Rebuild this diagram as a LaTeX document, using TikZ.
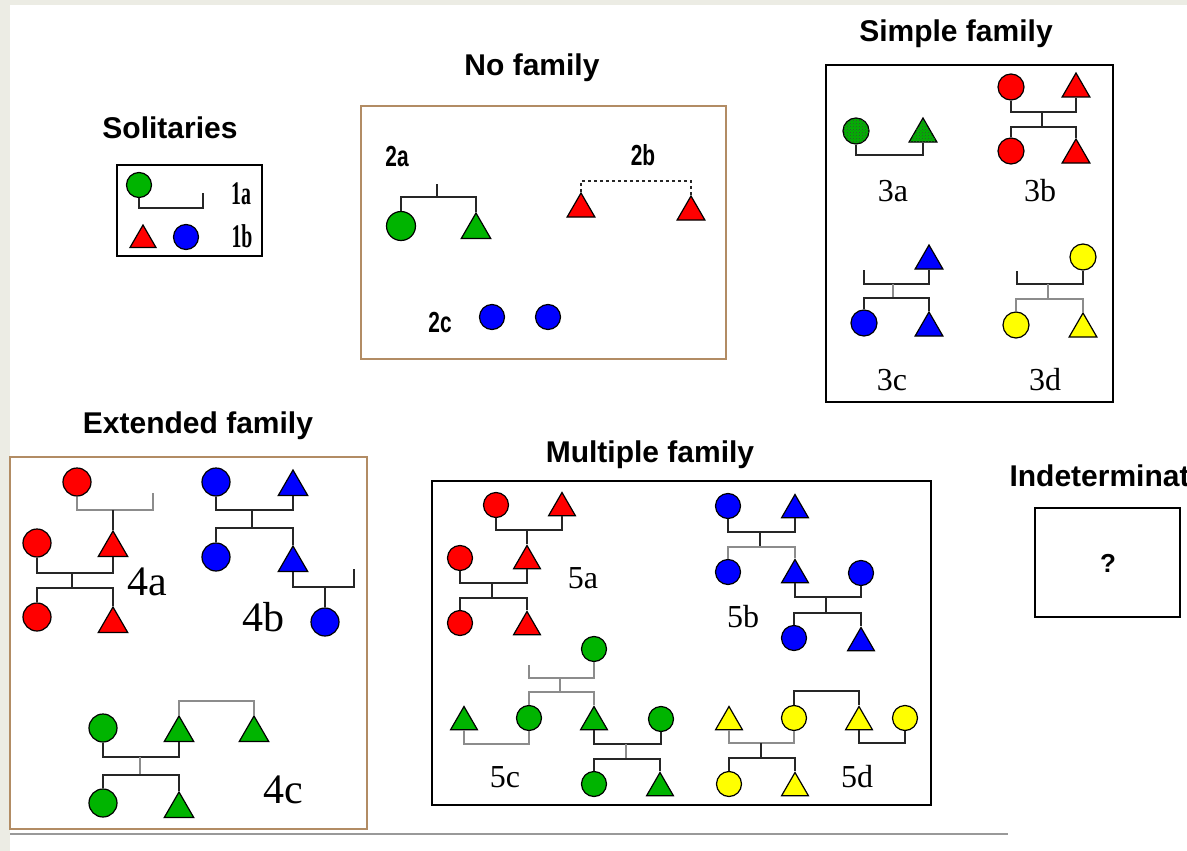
\documentclass[tikz,border=0pt]{standalone}
\usepackage{fontspec}
\usepackage{graphicx}
\setmainfont{Liberation Serif}
\setsansfont{Liberation Sans}
\usetikzlibrary{shapes.geometric,patterns}
\definecolor{pr}{RGB}{255,0,0}
\definecolor{pg}{RGB}{0,180,0}
\definecolor{pb}{RGB}{0,0,255}
\definecolor{py}{RGB}{255,255,0}
\definecolor{bandgray}{RGB}{236,236,228}
\definecolor{boxbrown}{RGB}{178,140,100}
\tikzset{
  fem/.style={circle, draw=black, line width=1.2, minimum size=26, inner sep=0},
  mal/.style={regular polygon, regular polygon sides=3, draw=black, line width=1.2, minimum size=32, inner sep=0},
  stip/.style={postaction={pattern=crosshatch dots, pattern color=black!75}},
  kin/.style={draw=black!85, line width=1.3},
  kinl/.style={draw=black!45, line width=1.3},
  ttl/.style={font=\sffamily\bfseries\fontsize{30}{32}\selectfont},
  lab/.style={font=\fontsize{32}{34}\selectfont},
  biglab/.style={font=\fontsize{42}{44}\selectfont},
  sollab/.style={font=\bfseries\fontsize{33}{35}\selectfont},
  implab/.style={font=\sffamily\bfseries\fontsize{29}{31}\selectfont},
  plainbox/.style={draw=black, line width=1.4},
  brownbox/.style={draw=boxbrown, line width=1.6}
}
\newcommand{\cnd}[1]{\scalebox{0.6}[1]{#1}}
\newcommand{\imp}[1]{\scalebox{0.72}[1]{#1}}
\begin{document}
\begin{tikzpicture}[x=1pt,y=-1pt]
\useasboundingbox (0,0) rectangle (1187,851);
\fill[bandgray] (0,0) rectangle (1187,851);
\fill[white] (10,5) rectangle (1187,851);
\begin{scope}
\clip (0,0) rectangle (1187,851);
% titles
\node[ttl] (tSol) at (170,128) {Solitaries};
\node[ttl] (tNo) at (532,68) {No family};
\node[ttl] (tSim) at (956,34) {Simple family};
\node[ttl] (tExt) at (198,426) {Extended family};
\node[ttl] (tMul) at (650,455) {Multiple family};
\node[ttl, anchor=west] (tInd) at (1006,476) {Indeterminate};

% ---------------- Solitaries
\draw[plainbox] (117,165) rectangle (262,256);
\node[fem, fill=pg, minimum size=25] (s1) at (139,185) {};
\coordinate (s1e) at (203,193);
\draw[kin] (s1.south) -- ++(0,10) -| (s1e);
\node[sollab] (l1a) at (241,194) {\cnd{1a}};
\node[mal, fill=pr, minimum size=30] (s2) at (143,240) {};
\node[fem, fill=pb, minimum size=25] (s3) at (186,237) {};
\node[sollab] (l1b) at (242,236) {\cnd{1b}};

% ---------------- No family
\draw[brownbox] (361,106) rectangle (726,359);
\node[implab] (l2a) at (397,157) {\imp{2a}};
\node[fem, fill=pg, minimum size=29] (n1) at (401,226) {};
\node[mal, fill=pg, minimum size=34] (n2) at (476,230) {};
\coordinate (j2a) at (437,197);
\coordinate (t2a) at (437,184);
\draw[kin] (n1.north) -- (n1.north |- j2a) -- (n2.north |- j2a) -- (n2.north);
\draw[kin] (j2a) -- (t2a);
\node[implab] (l2b) at (643,155) {\imp{2b}};
\node[mal, fill=pr, minimum size=32] (b1) at (581,209) {};
\node[mal, fill=pr, minimum size=32] (b2) at (691,212) {};
\coordinate (j2b) at (635,181);
\draw[kin, dashed] (b1.north) -- (b1.north |- j2b) -- (b2.north |- j2b) -- (b2.north);
\node[implab] (l2c) at (440,323) {\imp{2c}};
\node[fem, fill=pb, minimum size=25] (c1) at (492,317) {};
\node[fem, fill=pb, minimum size=25] (c2) at (548,317) {};

% ---------------- Simple family
\draw[plainbox] (826,65) rectangle (1113,402);
% 3a
\node[fem, fill=pg, stip] (a1) at (856,131) {};
\node[mal, fill=pg, stip] (a2) at (923,134) {};
\coordinate (j3a) at (890,155);
\draw[kin] (a1.south) -- (a1.south |- j3a) -- (a2.south |- j3a) -- (a2.south);
\node[lab] (l3a) at (893,191) {3a};
% 3b
\node[fem, fill=pr] (b3f) at (1011,87) {};
\node[mal, fill=pr] (b3m) at (1076,89) {};
\coordinate (j3b1) at (1042,112);
\coordinate (j3b2) at (1042,127);
\node[fem, fill=pr] (b3d) at (1011,151) {};
\node[mal, fill=pr] (b3s) at (1076,155) {};
\draw[kin] (b3f.south) -- (b3f.south |- j3b1) -- (b3m.south |- j3b1) -- (b3m.south);
\draw[kin] (j3b1) -- (j3b2);
\draw[kin] (b3d.north) -- (b3d.north |- j3b2) -- (b3s.north |- j3b2) -- (b3s.north);
\node[lab] (l3b) at (1040,191) {3b};
% 3c
\node[mal, fill=pb] (c3m) at (929,261) {};
\coordinate (s3c) at (864,270);
\coordinate (j3c1) at (893,284);
\coordinate (j3c2) at (893,298);
\node[fem, fill=pb] (c3d) at (864,323) {};
\node[mal, fill=pb] (c3s) at (929,328) {};
\draw[kin] (s3c) -- (s3c |- j3c1) -- (c3m.south |- j3c1) -- (c3m.south);
\draw[kinl] (j3c1) -- (j3c2);
\draw[kin] (c3d.north) -- (c3d.north |- j3c2) -- (c3s.north |- j3c2) -- (c3s.north);
\node[lab] (l3c) at (892,380) {3c};
% 3d
\node[fem, fill=py] (d3f) at (1083,257) {};
\coordinate (s3d) at (1017,271);
\coordinate (j3d1) at (1048,284);
\coordinate (j3d2) at (1048,299);
\node[fem, fill=py] (d3d) at (1016,325) {};
\node[mal, fill=py] (d3s) at (1083,329) {};
\draw[kin] (s3d) -- (s3d |- j3d1) -- (d3f.south |- j3d1) -- (d3f.south);
\draw[kinl] (j3d1) -- (j3d2);
\draw[kinl] (d3d.north) -- (d3d.north |- j3d2) -- (d3s.north |- j3d2) -- (d3s.north);
\node[lab] (l3d) at (1045,380) {3d};

% ---------------- Extended family
\draw[brownbox] (10,457) rectangle (367,829);
% 4a
\node[fem, fill=pr, minimum size=28] (e1) at (77,482) {};
\coordinate (s4a) at (153,493);
\coordinate (j4a1) at (113,510);
\node[mal, fill=pr, minimum size=34] (e2) at (113,548) {};
\node[fem, fill=pr, minimum size=28] (e3) at (37,543) {};
\coordinate (j4a2) at (72,573);
\coordinate (j4a3) at (72,588);
\node[fem, fill=pr, minimum size=28] (e4) at (37,617) {};
\node[mal, fill=pr, minimum size=34] (e5) at (113,624) {};
\draw[kinl] (e1.south) -- (e1.south |- j4a1) -- (s4a |- j4a1) -- (s4a);
\draw[kin] (j4a1) -- (e2.north);
\draw[kin] (e3.south) -- (e3.south |- j4a2) -- (e2.south |- j4a2) -- (e2.south);
\draw[kin] (j4a2) -- (j4a3);
\draw[kin] (e4.north) -- (e4.north |- j4a3) -- (e5.north |- j4a3) -- (e5.north);
\node[biglab] (l4a) at (147,582) {4a};
% 4b
\node[fem, fill=pb, minimum size=28] (f1) at (216,482) {};
\node[mal, fill=pb, minimum size=34] (f2) at (293,487) {};
\coordinate (j4b1) at (252,510);
\coordinate (j4b2) at (252,528);
\node[fem, fill=pb, minimum size=28] (f3) at (216,557) {};
\node[mal, fill=pb, minimum size=34] (f4) at (293,563) {};
\coordinate (s4b) at (354,569);
\coordinate (j4b3) at (325,587);
\node[fem, fill=pb, minimum size=28] (f5) at (325,622) {};
\draw[kin] (f1.south) -- (f1.south |- j4b1) -- (f2.south |- j4b1) -- (f2.south);
\draw[kin] (j4b1) -- (j4b2);
\draw[kin] (f3.north) -- (f3.north |- j4b2) -- (f4.north |- j4b2) -- (f4.north);
\draw[kin] (f4.south) -- (f4.south |- j4b3) -- (s4b |- j4b3) -- (s4b);
\draw[kin] (j4b3) -- (f5.north);
\node[biglab] (l4b) at (263,617) {4b};
% 4c
\node[fem, fill=pg, minimum size=28] (g1) at (103,728) {};
\node[mal, fill=pg, minimum size=34] (g2) at (179,733) {};
\node[mal, fill=pg, minimum size=34] (g3) at (254,733) {};
\coordinate (j4c0) at (216,701);
\coordinate (j4c1) at (140,757);
\coordinate (j4c2) at (140,775);
\node[fem, fill=pg, minimum size=28] (g4) at (103,803) {};
\node[mal, fill=pg, minimum size=34] (g5) at (179,809) {};
\draw[kinl] (g2.north) -- (g2.north |- j4c0) -- (g3.north |- j4c0) -- (g3.north);
\draw[kin] (g1.south) -- (g1.south |- j4c1) -- (g2.south |- j4c1) -- (g2.south);
\draw[kinl] (j4c1) -- (j4c2);
\draw[kin] (g4.north) -- (g4.north |- j4c2) -- (g5.north |- j4c2) -- (g5.north);
\node[biglab] (l4c) at (283,790) {4c};

% ---------------- Multiple family
\draw[plainbox] (432,481) rectangle (931,805);
% 5a
\node[fem, fill=pr, minimum size=25] (m1) at (496,505) {};
\node[mal, fill=pr, minimum size=31] (m2) at (562,508) {};
\coordinate (j5a1) at (527,530);
\node[mal, fill=pr, minimum size=31] (m3) at (527,561) {};
\node[fem, fill=pr, minimum size=25] (m4) at (460,558) {};
\coordinate (j5a2) at (492,583);
\coordinate (j5a3) at (492,598);
\node[fem, fill=pr, minimum size=25] (m5) at (460,623) {};
\node[mal, fill=pr, minimum size=31] (m6) at (527,627) {};
\draw[kin] (m1.south) -- (m1.south |- j5a1) -- (m2.south |- j5a1) -- (m2.south);
\draw[kin] (j5a1) -- (m3.north);
\draw[kin] (m4.south) -- (m4.south |- j5a2) -- (m3.south |- j5a2) -- (m3.south);
\draw[kin] (j5a2) -- (j5a3);
\draw[kin] (m5.north) -- (m5.north |- j5a3) -- (m6.north |- j5a3) -- (m6.north);
\node[lab] (l5a) at (583,578) {5a};
% 5b
\node[fem, fill=pb, minimum size=25] (p1) at (728,506) {};
\node[mal, fill=pb, minimum size=31] (p2) at (795,510) {};
\coordinate (j5b1) at (760,532);
\coordinate (j5b2) at (760,547);
\node[fem, fill=pb, minimum size=25] (p3) at (728,572) {};
\node[mal, fill=pb, minimum size=31] (p4) at (795,575) {};
\node[fem, fill=pb, minimum size=25] (p5) at (861,573) {};
\coordinate (j5b3) at (826,597);
\coordinate (j5b4) at (826,613);
\node[fem, fill=pb, minimum size=25] (p6) at (794,638) {};
\node[mal, fill=pb, minimum size=31] (p7) at (861,643) {};
\draw[kin] (p1.south) -- (p1.south |- j5b1) -- (p2.south |- j5b1) -- (p2.south);
\draw[kin] (j5b1) -- (j5b2);
\draw[kinl] (p3.north) -- (p3.north |- j5b2) -- (p4.north |- j5b2) -- (p4.north);
\draw[kin] (p4.south) -- (p4.south |- j5b3) -- (p5.south |- j5b3) -- (p5.south);
\draw[kin] (j5b3) -- (j5b4);
\draw[kin] (p6.north) -- (p6.north |- j5b4) -- (p7.north |- j5b4) -- (p7.north);
\node[lab] (l5b) at (743,617) {5b};
% 5c
\node[fem, fill=pg, minimum size=25] (q1) at (594,649) {};
\coordinate (s5c) at (529,665);
\coordinate (j5c1) at (560,678);
\coordinate (j5c2) at (560,692);
\node[mal, fill=pg, minimum size=31] (q2) at (464,722) {};
\node[fem, fill=pg, minimum size=25] (q3) at (529,718) {};
\node[mal, fill=pg, minimum size=31] (q4) at (594,722) {};
\node[fem, fill=pg, minimum size=25] (q5) at (661,719) {};
\coordinate (j5c3) at (626,744);
\coordinate (j5c4) at (626,759);
\node[fem, fill=pg, minimum size=25] (q6) at (594,784) {};
\node[mal, fill=pg, minimum size=31] (q7) at (660,788) {};
\draw[kinl] (s5c) -- (s5c |- j5c1) -- (q1.south |- j5c1) -- (q1.south);
\draw[kinl] (j5c1) -- (j5c2);
\draw[kinl] (q3.north) -- (q3.north |- j5c2) -- (q4.north |- j5c2) -- (q4.north);
\draw[kinl] (q2.south) -- (q2.south |- j5c3) -- (q3.south |- j5c3) -- (q3.south);
\draw[kin] (q4.south) -- (q4.south |- j5c3) -- (q5.south |- j5c3) -- (q5.south);
\draw[kinl] (j5c3) -- (j5c4);
\draw[kin] (q6.north) -- (q6.north |- j5c4) -- (q7.north |- j5c4) -- (q7.north);
\node[lab] (l5c) at (505,777) {5c};
% 5d
\node[mal, fill=py, minimum size=31] (r1) at (729,722) {};
\node[fem, fill=py, minimum size=25] (r2) at (794,718) {};
\node[mal, fill=py, minimum size=31] (r3) at (859,722) {};
\node[fem, fill=py, minimum size=25] (r4) at (905,718) {};
\coordinate (j5d0) at (826,691);
\coordinate (j5d1) at (761,743);
\coordinate (j5d2) at (761,758);
\node[fem, fill=py, minimum size=25] (r5) at (729,784) {};
\node[mal, fill=py, minimum size=31] (r6) at (795,788) {};
\draw[kin] (r2.north) -- (r2.north |- j5d0) -- (r3.north |- j5d0) -- (r3.north);
\draw[kinl] (r1.south) -- (r1.south |- j5d1) -- (r2.south |- j5d1) -- (r2.south);
\draw[kin] (j5d1) -- (j5d2);
\draw[kin] (r5.north) -- (r5.north |- j5d2) -- (r6.north |- j5d2) -- (r6.north);
\draw[kin] (r3.south) -- (r3.south |- j5d1) -- (r4.south |- j5d1) -- (r4.south);
\node[lab] (l5d) at (857,777) {5d};

% ---------------- Indeterminate
\draw[plainbox] (1035,508) rectangle (1180,617);
\node[font=\sffamily\bfseries\fontsize{26}{28}\selectfont] (qm) at (1108,563) {?};

% bottom rule
\draw[draw=black!40, line width=2] (10,834) -- (1008,834);
\end{scope}
\end{tikzpicture}
\end{document}
